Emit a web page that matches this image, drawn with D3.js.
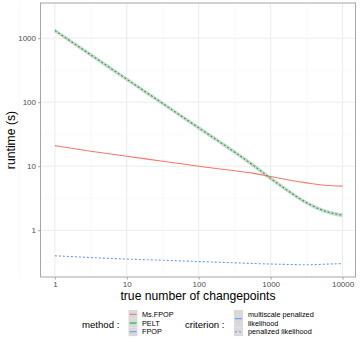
<!DOCTYPE html>
<html>
<head>
<meta charset="utf-8">
<script src="https://cdn.jsdelivr.net/npm/d3@7"></script>
<style>
  body { margin: 0; background: #fff; }
  svg text { font-family: "Liberation Sans", Arial, sans-serif; }
</style>
</head>
<body>
<svg id="chart" width="360" height="342"></svg>
<script>
// number of changepoints (x) where the smoothed curves were read
var changepoints = [1, 3.16, 10, 31.6, 100, 316, 562, 1000, 1778, 3162, 5623, 10000];

// runtime (s) per method and criterion
var msfpopRuntime = [21.0, 17.2, 14.3, 12.0, 10.0, 8.5, 7.8, 6.9, 6.1, 5.5, 5.05, 4.9];
var peltRuntime   = [1318, 550, 229, 95.5, 39.8, 16.6, 10.5, 6.46, 4.07, 2.69, 2.0, 1.72];
var fpopRuntime   = [0.40, 0.375, 0.355, 0.34, 0.325, 0.31, 0.303, 0.297, 0.292, 0.289, 0.295, 0.302];
// half width (in log10) of the confidence band around PELT
var peltBand = 0.032;

var methods = ['Ms.FPOP', 'PELT', 'FPOP'];
var methodColors = ['#F8766D', '#00BA38', '#619CFF'];
var criteria = ['multiscale penalized\nlikelihood', 'penalized likelihood'];

var xTicks = [1, 10, 100, 1000, 10000];
var yTicks = [1, 10, 100, 1000];

var svg = d3.select('#chart');
var panel = {l: 40.5, r: 355.5, t: 3, b: 277};

var x = d3.scaleLog().domain([Math.pow(10, -0.2), Math.pow(10, 4.18)]).range([panel.l, panel.r]);
var y = d3.scaleLog().domain([Math.pow(10, -0.73), Math.pow(10, 3.55)]).range([panel.b, panel.t]);

// grid: minor lines halfway between decades, major at decades
var xMinor = [-0.5, 0.5, 1.5, 2.5, 3.5].map(function(e){ return Math.pow(10, e); });
var yMinor = [-0.5, 0.5, 1.5, 2.5, 3.5].map(function(e){ return Math.pow(10, e); });

var grid = svg.append('g');
grid.selectAll('.vminor').data(xMinor).enter().append('line')
    .attr('x1', function(d){ return x(d); }).attr('x2', function(d){ return x(d); })
    .attr('y1', panel.t).attr('y2', panel.b)
    .attr('stroke', '#f4f4f4').attr('stroke-width', 0.5);
grid.selectAll('.hminor').data(yMinor.filter(function(d){ return y(d) > panel.t; })).enter().append('line')
    .attr('y1', function(d){ return y(d); }).attr('y2', function(d){ return y(d); })
    .attr('x1', panel.l).attr('x2', panel.r)
    .attr('stroke', '#f4f4f4').attr('stroke-width', 0.5);
grid.selectAll('.vmajor').data(xTicks).enter().append('line')
    .attr('x1', function(d){ return x(d); }).attr('x2', function(d){ return x(d); })
    .attr('y1', panel.t).attr('y2', panel.b)
    .attr('stroke', '#ececec').attr('stroke-width', 1);
grid.selectAll('.hmajor').data(yTicks).enter().append('line')
    .attr('y1', function(d){ return y(d); }).attr('y2', function(d){ return y(d); })
    .attr('x1', panel.l).attr('x2', panel.r)
    .attr('stroke', '#ececec').attr('stroke-width', 1);

// PELT confidence band
var band = d3.area()
    .curve(d3.curveMonotoneX)
    .x(function(d){ return x(d.x); })
    .y0(function(d){ return y(d.y * Math.pow(10, -peltBand)); })
    .y1(function(d){ return y(d.y * Math.pow(10, peltBand)); });

function pts(vals) {
    return changepoints.map(function(c, i){ return {x: c, y: vals[i]}; });
}

svg.append('path').datum(pts(peltRuntime))
    .attr('d', band).attr('fill', '#999').attr('opacity', 0.4);

var line = d3.line().curve(d3.curveMonotoneX)
    .x(function(d){ return x(d.x); })
    .y(function(d){ return y(d.y); });

var series = [
    {vals: msfpopRuntime, color: methodColors[0], dash: null},
    {vals: peltRuntime, color: methodColors[1], dash: '2,2'},
    {vals: fpopRuntime, color: methodColors[2], dash: '2,2'}
];
series.forEach(function(s){
    svg.append('path').datum(pts(s.vals))
        .attr('d', line)
        .attr('fill', 'none')
        .attr('stroke', s.color)
        .attr('stroke-width', 1.1)
        .attr('stroke-dasharray', s.dash);
});

// panel border
svg.append('rect')
    .attr('x', panel.l).attr('y', panel.t)
    .attr('width', panel.r - panel.l).attr('height', panel.b - panel.t)
    .attr('fill', 'none').attr('stroke', '#a6a6a6').attr('stroke-width', 1);

// axes
var xAxis = svg.append('g').attr('transform', 'translate(0,' + panel.b + ')')
    .call(d3.axisBottom(x).tickValues(xTicks).tickFormat(d3.format('d')).tickSize(2.5).tickPadding(2));
var yAxis = svg.append('g').attr('transform', 'translate(' + panel.l + ',0)')
    .call(d3.axisLeft(y).tickValues(yTicks).tickFormat(d3.format('d')).tickSize(2.5).tickPadding(2));
[xAxis, yAxis].forEach(function(a){
    a.select('.domain').remove();
    a.selectAll('.tick line').attr('stroke', '#a6a6a6');
    a.selectAll('.tick text').attr('fill', '#4d4d4d').style('font-size', '8px')
        .style('font-family', '"Liberation Sans", Arial, sans-serif');
});

svg.append('text')
    .attr('x', (panel.l + panel.r) / 2).attr('y', 299.5)
    .attr('text-anchor', 'middle').attr('font-size', '12.2px').attr('fill', '#000')
    .text('true number of changepoints');
svg.append('text')
    .attr('transform', 'translate(15,' + ((panel.t + panel.b) / 2) + ') rotate(-90)')
    .attr('text-anchor', 'middle').attr('font-size', '12.2px').attr('fill', '#000')
    .text('runtime (s)');

// legends
var legend = svg.append('g');
legend.append('text').attr('x', 82).attr('y', 327.5).attr('font-size', '9.6px').text('method :');
var keyH = 8.7, keyTop = 310;
methods.forEach(function(m, i){
    var yy = keyTop + i * keyH;
    legend.append('rect').attr('x', 128.5).attr('y', yy).attr('width', 9).attr('height', keyH)
        .attr('fill', '#d9d9d9');
    legend.append('line').attr('x1', 129.5).attr('x2', 136.5)
        .attr('y1', yy + keyH / 2).attr('y2', yy + keyH / 2)
        .attr('stroke', methodColors[i]).attr('stroke-width', 1.1);
    legend.append('text').attr('x', 142).attr('y', yy + keyH / 2 + 2.6)
        .attr('font-size', '7.3px').text(m);
});

legend.append('text').attr('x', 185).attr('y', 327.5).attr('font-size', '9.6px').text('criterion :');
var critKeys = [{top: 310, h: 17.4, dash: null}, {top: 327.4, h: 8.7, dash: '2,2'}];
criteria.forEach(function(c, i){
    var k = critKeys[i];
    legend.append('rect').attr('x', 234).attr('y', k.top).attr('width', 9).attr('height', k.h)
        .attr('fill', '#d9d9d9');
    legend.append('line').attr('x1', 235).attr('x2', 242)
        .attr('y1', k.top + k.h / 2).attr('y2', k.top + k.h / 2)
        .attr('stroke', methodColors[2]).attr('stroke-width', 1.1)
        .attr('stroke-dasharray', k.dash);
    c.split('\n').forEach(function(part, j){
        legend.append('text').attr('x', 248).attr('y', k.top + 4.35 + j * keyH + 2.6)
            .attr('font-size', '7.3px').text(part);
    });
});
</script>
</body>
</html>
